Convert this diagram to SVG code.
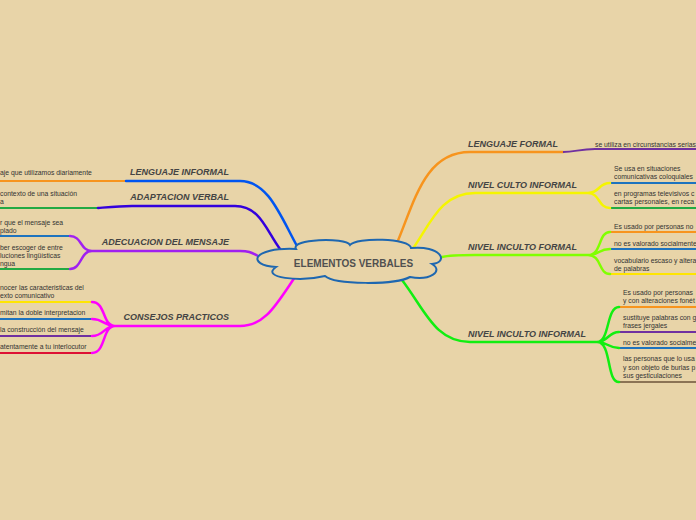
<svg xmlns="http://www.w3.org/2000/svg" width="696" height="520" viewBox="0 0 696 520">
<style>
.lbl{font-family:"Liberation Sans",Arial,sans-serif;font-size:9px;font-weight:bold;font-style:italic;fill:#444}
.t{font-family:"Liberation Sans",Arial,sans-serif;font-size:6.8px;fill:#333}
.e{fill:none;stroke-width:2.5;stroke-linecap:round}
.s{fill:none;stroke-width:2}
</style>
<rect width="696" height="520" fill="#E8D4A8"/>
<g id="connectors">
<path class="s" stroke="#F7941D" d="M0,181 L126,181"/>
<path class="e" stroke="#0055F0" d="M126,181 L240,181 C268,181 280,215 297,246"/>
<path class="s" stroke="#22AA44" d="M0,208 L98,208"/>
<path class="e" stroke="#3300DD" d="M98,208 C110,207 120,206 132,206 L235,206 C260,206 266,230 280,249"/>
<path class="s" stroke="#1E73BE" d="M0,236 L70,236"/>
<path class="s" stroke="#22AA44" d="M0,269 L70,269"/>
<path class="e" stroke="#A020F0" d="M70,236 C82,236 80,251 92,251 M70,269 C82,269 80,251 92,251 M92,251 L240,251 C250,251 252,253 258,256"/>
<path class="s" stroke="#FFE500" d="M0,302 L92,302"/>
<path class="s" stroke="#1E73BE" d="M0,319 L92,319"/>
<path class="s" stroke="#7030A0" d="M0,336 L92,336"/>
<path class="s" stroke="#DD1133" d="M0,353 L92,353"/>
<path class="e" stroke="#FF00FF" d="M92,302 C106,302 102,326 115,326 M92,319 C104,319 104,326 115,326 M92,336 C104,336 104,326 115,326 M92,353 C106,353 102,326 115,326 M115,326 L240,326 C265,326 276,305 295,277"/>
<path class="e" stroke="#F7941D" d="M397,243 C415,200 425,152 470,152 L563,152"/>
<path class="s" stroke="#7030A0" d="M563,152 C575,152 580,149 595,149 L696,149"/>
<path class="s" stroke="#1E73BE" d="M610,183 L696,183"/>
<path class="s" stroke="#22AA44" d="M610,208 L696,208"/>
<path class="e" stroke="#F5F500" d="M412,250 C430,225 440,193 475,193 L588,193 M588,193 C600,193 598,183 610,183 M588,193 C600,193 598,208 610,208"/>
<path class="s" stroke="#F7941D" d="M610,232 L696,232"/>
<path class="s" stroke="#1E73BE" d="M610,249 L696,249"/>
<path class="s" stroke="#FFE500" d="M610,274 L696,274"/>
<path class="e" stroke="#80FF00" d="M442,257 C450,255 460,255 475,255 L588,255 M588,255 C602,255 598,232 610,232 M588,255 C600,255 598,249 610,249 M588,255 C602,255 598,274 610,274"/>
<path class="s" stroke="#F7941D" d="M619,307 L696,307"/>
<path class="s" stroke="#7030A0" d="M619,332 L696,332"/>
<path class="s" stroke="#1E73BE" d="M619,348 L696,348"/>
<path class="s" stroke="#8B7355" d="M619,382 L696,382"/>
<path class="e" stroke="#11EE11" d="M402,280 C425,310 435,342 470,342 L597,342 M597,342 C610,342 606,307 619,307 M597,342 C608,342 608,332 619,332 M597,342 C608,342 608,348 619,348 M597,342 C612,342 606,382 619,382"/>
</g>
<g id="center">
<path d="M296,249 C290,239 345,237 350,245 C356,237 410,238 411,248 C440,245 450,262 432,264 C444,271 430,281 410,277 C395,285 335,285 325,276 C300,282 260,278 276,267 C246,265 252,247 296,249 Z" fill="#E8D4A8" stroke="#1E67B0" stroke-width="2"/>
<text x="353.5" y="267" text-anchor="middle" font-family="Liberation Sans,Arial,sans-serif" font-size="10" font-weight="bold" fill="#505050">ELEMENTOS VERBALES</text>
</g>
<g id="lenguaje-informal">
<text class="lbl" x="229" y="175" text-anchor="end">LENGUAJE INFORMAL</text>
<text class="t" x="0" y="175">aje que utilizamos diariamente</text>
</g>
<g id="adaptacion-verbal">
<text class="lbl" x="229" y="200" text-anchor="end">ADAPTACION VERBAL</text>
<text class="t" x="0" y="196">contexto de una situación</text>
<text class="t" x="0" y="204">a</text>
</g>
<g id="adecuacion">
<text class="lbl" x="229" y="245" text-anchor="end">ADECUACION DEL MENSAJE</text>
<text class="t" x="0" y="225">r que el mensaje sea</text>
<text class="t" x="0" y="233">plado</text>
<text class="t" x="0" y="250">ber escoger  de entre</text>
<text class="t" x="0" y="258">luciones lingüísticas</text>
<text class="t" x="0" y="266">ngua</text>
</g>
<g id="consejos">
<text class="lbl" x="229" y="320" text-anchor="end">CONSEJOS PRACTICOS</text>
<text class="t" x="0" y="290">nocer las caracteristicas del</text>
<text class="t" x="0" y="298">exto comunicativo</text>
<text class="t" x="0" y="315">mitan la doble interpretacion</text>
<text class="t" x="0" y="332">la construcción del mensaje</text>
<text class="t" x="0" y="349">atentamente a tu interlocutor</text>
</g>
<g id="lenguaje-formal">
<text class="lbl" x="468" y="147">LENGUAJE FORMAL</text>
<text class="t" x="595" y="147">se utiliza en circunstancias serias</text>
</g>
<g id="nivel-culto-informal">
<text class="lbl" x="468" y="188">NIVEL CULTO INFORMAL</text>
<text class="t" x="614" y="171">Se usa en situaciones</text>
<text class="t" x="614" y="179">comunicativas coloquiales</text>
<text class="t" x="614" y="196">en programas televisivos c</text>
<text class="t" x="614" y="204">cartas personales, en reca</text>
</g>
<g id="nivel-inculto-formal">
<text class="lbl" x="468" y="250">NIVEL INCULTO FORMAL</text>
<text class="t" x="614" y="229">Es usado por personas no</text>
<text class="t" x="614" y="246">no es valorado socialmente</text>
<text class="t" x="614" y="263">vocabulario escaso y altera</text>
<text class="t" x="614" y="271">de palabras</text>
</g>
<g id="nivel-inculto-informal">
<text class="lbl" x="468" y="337">NIVEL INCULTO INFORMAL</text>
<text class="t" x="623" y="295">Es usado por personas</text>
<text class="t" x="623" y="303">y con alteraciones fonét</text>
<text class="t" x="623" y="320">sustituye palabras con g</text>
<text class="t" x="623" y="328"> frases jergales</text>
<text class="t" x="623" y="345">no es valorado socialme</text>
<text class="t" x="623" y="361">las personas que lo usa</text>
<text class="t" x="623" y="370">y son objeto de burlas p</text>
<text class="t" x="623" y="378">sus gesticulaciones</text>
</g>
</svg>
